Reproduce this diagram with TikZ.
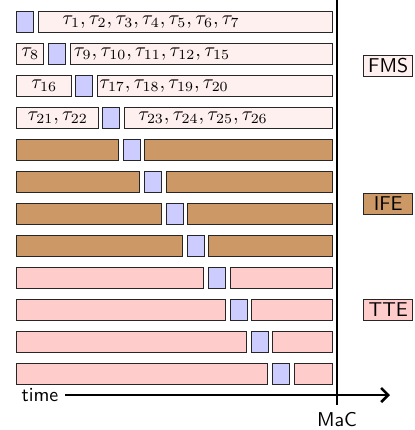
\documentclass[tikz,border=0pt]{standalone}
\usepackage{amsmath}
\usepackage{tikz}
\usetikzlibrary{arrows.meta}
\definecolor{fmslight}{HTML}{FFF0F0}
\definecolor{ifebrown}{HTML}{CC9966}
\definecolor{ttepink}{HTML}{FFCCCC}
\definecolor{maclight}{HTML}{CCCCFF}
\definecolor{boxframe}{HTML}{262626}

\begin{document}
\begin{tikzpicture}[
    x=0.5pt, y=-0.5pt,
    >={Straight Barb[length=3.5pt,width=7pt]},
    every node/.style={font=\sffamily},
    taskbox/.style={
        rectangle,
        anchor=west,
        minimum height=10.5pt,
        inner sep=1pt,
        draw=boxframe,
        line width=0.75pt
    },
    fmsbox/.style={taskbox, fill=fmslight},
    ifebox/.style={taskbox, fill=ifebrown},
    ttebox/.style={taskbox, fill=ttepink},
    macbox/.style={taskbox, fill=maclight, minimum width=8.5pt},
    axis/.style={line width=1.3pt}
]
    \useasboundingbox (0,0) rectangle (414,430);

    % === FMS ROWS ===
    % row 1
    \node[macbox] (m1) at (16,22) {};
    \node[fmsbox, minimum width=147pt] (b1) at (38,22) {};
    \node (l1) at (151,22) {$\tau_1, \tau_2, \tau_3, \tau_4, \tau_5, \tau_6, \tau_7$};

    % row 2
    \node[fmsbox, minimum width=13.5pt] (a2) at (16,54) {$\tau_8$};
    \node[macbox] (m2) at (48,54) {};
    \node[fmsbox, minimum width=131pt] (b2) at (70,54) {};
    \node (l2) at (152,54) {$\tau_9, \tau_{10}, \tau_{11}, \tau_{12}, \tau_{15}$};

    % row 3
    \node[fmsbox, minimum width=27.5pt] (a3) at (16,86) {$\tau_{16}$};
    \node[macbox] (m3) at (75,86) {};
    \node[fmsbox, minimum width=117.5pt] (b3) at (97,86) {};
    \node (l3) at (164,86) {$\tau_{17}, \tau_{18}, \tau_{19}, \tau_{20}$};

    % row 4
    \node[fmsbox, minimum width=41pt] (a4) at (16,118) {$\tau_{21}, \tau_{22}$};
    \node[macbox] (m4) at (102,118) {};
    \node[fmsbox, minimum width=104pt] (b4) at (124,118) {};
    \node (l4) at (203,118) {$\tau_{23}, \tau_{24}, \tau_{25}, \tau_{26}$};

    % === IFE ROWS ===
    \node[ifebox, minimum width=51pt] (a5) at (16,150) {};
    \node[macbox] (m5) at (123,150) {};
    \node[ifebox, minimum width=94pt] (b5) at (144,150) {};

    \node[ifebox, minimum width=61.5pt] (a6) at (16,182) {};
    \node[macbox] (m6) at (144,182) {};
    \node[ifebox, minimum width=83pt] (b6) at (166,182) {};

    \node[ifebox, minimum width=72.5pt] (a7) at (16,214) {};
    \node[macbox] (m7) at (166,214) {};
    \node[ifebox, minimum width=72.5pt] (b7) at (187,214) {};

    \node[ifebox, minimum width=83pt] (a8) at (16,246) {};
    \node[macbox] (m8) at (187,246) {};
    \node[ifebox, minimum width=62pt] (b8) at (208,246) {};

    % === TTE ROWS ===
    \node[ttebox, minimum width=93.5pt] (a9) at (16,278) {};
    \node[macbox] (m9) at (208,278) {};
    \node[ttebox, minimum width=51pt] (b9) at (230,278) {};

    \node[ttebox, minimum width=104.5pt] (a10) at (16,310) {};
    \node[macbox] (m10) at (230,310) {};
    \node[ttebox, minimum width=40.5pt] (b10) at (251,310) {};

    \node[ttebox, minimum width=115pt] (a11) at (16,342) {};
    \node[macbox] (m11) at (251,342) {};
    \node[ttebox, minimum width=30pt] (b11) at (272,342) {};

    \node[ttebox, minimum width=125.5pt] (a12) at (16,374) {};
    \node[macbox] (m12) at (272,374) {};
    \node[ttebox, minimum width=19pt] (b12) at (294,374) {};

    % === LEGEND ===
    \node[fmsbox, minimum width=24.5pt, font=\sffamily] (fms) at (363,66) {FMS};
    \node[ifebox, minimum width=24.5pt, font=\sffamily] (ife) at (363,204) {IFE};
    \node[ttebox, minimum width=24.5pt, font=\sffamily] (tte) at (363,310) {TTE};

    % === TIME AXIS AND MaC ===
    \coordinate (mactop) at (337,0);
    \node[anchor=north] (mac) at (337,405) {MaC};
    \draw[axis] (mactop) -- (mac);

    \node (time) at (40,395) {time};
    \coordinate (timeend) at (390,395);
    \draw[axis, ->] (time) -- (timeend);
\end{tikzpicture}
\end{document}
